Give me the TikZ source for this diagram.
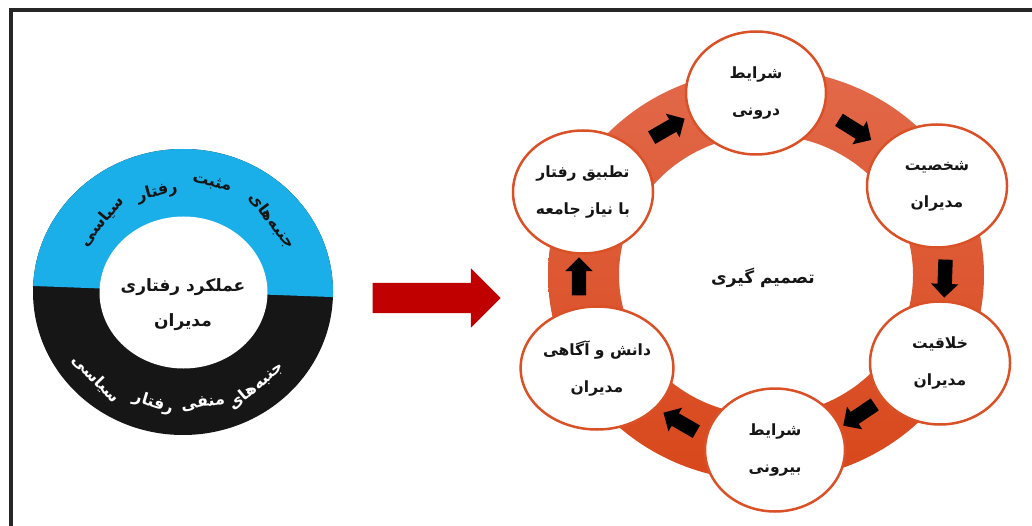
\documentclass[tikz,border=0pt]{standalone}
\usepackage{fontspec}
\usetikzlibrary{shapes.arrows,shapes.geometric}
\TeXXeTstate=1
\newfontfamily\arabicfont[Script=Arabic]{DejaVu Sans}
\definecolor{ringtop}{HTML}{E2694A}
\definecolor{ringbot}{HTML}{D8471B}
\definecolor{nodeedge}{HTML}{DA5127}
\definecolor{skyblue}{HTML}{1AAFE8}
\definecolor{darkfill}{HTML}{161616}
\definecolor{redarrow}{HTML}{C00000}
\definecolor{inktext}{HTML}{151515}
\begin{document}
\begin{tikzpicture}[x=1pt,y=-1pt,
  cyc/.style={ellipse, draw=nodeedge, line width=2.5pt, fill=white,
    minimum width=140pt, minimum height=123pt, inner sep=0pt, align=center,
    text=inktext, font=\arabicfont\bfseries\fontsize{15.5}{37}\selectfont},
  blk/.style={single arrow, fill=black, minimum height=38pt, inner xsep=0pt,
    inner ysep=7pt, single arrow head extend=6.5pt},
  bigarrowstyle/.style={single arrow, fill=redarrow, minimum height=128pt,
    inner xsep=0pt, inner ysep=15pt, single arrow head extend=14.5pt},
  toptext/.style={inner sep=0pt, text=inktext, font=\arabicfont\bfseries\fontsize{16}{18}\selectfont},
  bottext/.style={inner sep=0pt, text=white, font=\arabicfont\bfseries\fontsize{16}{18}\selectfont},
  coretext/.style={inner sep=0pt, align=center, text=inktext, font=\arabicfont\bfseries\fontsize{17}{35}\selectfont}
]
\useasboundingbox (0,0) rectangle (1032,526);
\begin{scope}
\clip (0,0) rectangle (1032,526);
\draw[line width=4pt, black!85] (1040,10) -- (11,10) -- (11,540);
\end{scope}

% ---- left donut ----
\begin{scope}
\clip (183,292) ellipse [x radius=150pt, y radius=143pt];
\fill[darkfill] (20,130) rectangle (350,450);
\fill[skyblue] (20,130) -- (350,130) -- (350,297.7) -- (20,285.5) -- cycle;
\end{scope}
\fill[white] (183.5,292.5) ellipse [x radius=84pt, y radius=76pt];

\node[coretext] (core) at (183,305) {\beginR عملکرد رفتاری\endR\\\beginR مدیران\endR};

\node[toptext, rotate=-53] (p1) at (272,221) {\beginR جنبه‌های\endR};
\node[toptext, rotate=-15] (p2) at (212,183) {\beginR مثبت\endR};
\node[toptext, rotate=15]  (p3) at (157,192) {\beginR رفتار\endR};
\node[toptext, rotate=50]  (p4) at (102,221) {\beginR سیاسی\endR};

\node[bottext, rotate=40]  (n1) at (256,386) {\beginR جنبه‌های\endR};
\node[bottext, rotate=9]   (n2) at (203,403) {\beginR منفی\endR};
\node[bottext, rotate=-17] (n3) at (153,403) {\beginR رفتار\endR};
\node[bottext, rotate=-46] (n4) at (96,379) {\beginR سیاسی\endR};

% ---- red arrow ----
\node[bigarrowstyle] (bigarrow) at (429,298) {};

% ---- cycle ring ----
\shade[top color=ringtop, bottom color=ringbot, even odd rule]
  (766,275) ellipse [x radius=218pt, y radius=206pt]
  (766,275) ellipse [x radius=147pt, y radius=140pt];

\node[inner sep=0pt, text=inktext, font=\arabicfont\bfseries\fontsize{17}{18}\selectfont] (decide) at (763,278) {\beginR تصمیم گیری\endR};

\node[cyc] (top) at (756,93)  {\beginR شرایط\endR\\\beginR درونی\endR};
\node[cyc] (ur)  at (937,186) {\beginR شخصیت\endR\\\beginR مدیران\endR};
\node[cyc] (lr)  at (940,363) {\beginR خلاقیت\endR\\\beginR مدیران\endR};
\node[cyc] (bot) at (775,450) {\beginR شرایط\endR\\\beginR بیرونی\endR};
\node[cyc] (ll)  at (597,368) {\beginR دانش و آگاهی\endR\\\beginR مدیران\endR};
\node[cyc] (ul)  at (583,192) {\beginR تطبیق رفتار\endR\\\beginR با نیاز جامعه\endR};

\node[blk, rotate=30]   (a1) at (665,130) {};
\node[blk, rotate=-32]  (a2) at (852,128) {};
\node[blk, rotate=-92]  (a3) at (945,275) {};
\node[blk, rotate=-146] (a4) at (862,413) {};
\node[blk, rotate=150]  (a5) at (683,424) {};
\node[blk, rotate=90]   (a6) at (579,280) {};
\end{tikzpicture}
\end{document}
